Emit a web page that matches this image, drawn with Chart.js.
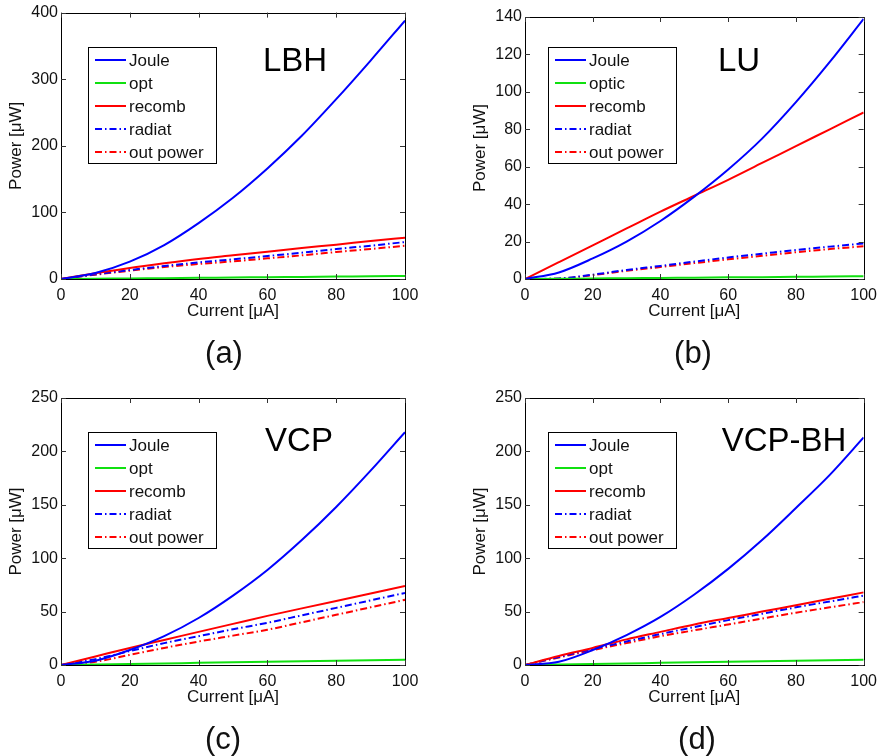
<!DOCTYPE html>
<html>
<head>
<meta charset="utf-8">
<script src="https://cdn.jsdelivr.net/npm/chart.js@4.4.1/dist/chart.umd.min.js"></script>
<style>
body { margin: 0; background: #fff; width: 884px; height: 756px; position: relative; overflow: hidden; font-family: "Liberation Sans", Arial, sans-serif; }
.panel { position: absolute; width: 442px; height: 378px; }
.cap { position: absolute; font-size: 31px; line-height: 34px; color: #111; transform: translateX(-50%); }
</style>
</head>
<body>
<div class="panel" style="left:0;top:0"><canvas id="cA" width="442" height="378"></canvas></div>
<div class="panel" style="left:442px;top:0"><canvas id="cB" width="442" height="378"></canvas></div>
<div class="panel" style="left:0;top:378px"><canvas id="cC" width="442" height="378"></canvas></div>
<div class="panel" style="left:442px;top:378px"><canvas id="cD" width="442" height="378"></canvas></div>
<div class="cap" style="left:224px;top:336px">(a)</div>
<div class="cap" style="left:693px;top:336px">(b)</div>
<div class="cap" style="left:223px;top:722px">(c)</div>
<div class="cap" style="left:697px;top:722px">(d)</div>
<script>
// Current [µA]
const current = [0, 10, 20, 30, 40, 50, 60, 70, 80, 90, 100];

// (a) LBH
const lbhJoule  = [0, 9, 26, 51, 84, 122, 166, 215, 270, 328, 388];
const lbhOpt    = [0, 0.4, 0.9, 1.3, 1.8, 2.2, 2.7, 3.1, 3.6, 4.0, 4.5];
const lbhRecomb = [0, 8.5, 16.5, 23.5, 30, 35.5, 41, 46.5, 51.5, 57, 62];
const lbhRadiat = [0, 7, 13.5, 19.5, 25, 29.5, 34.5, 39.5, 45, 50, 55.5];
const lbhOut    = [0, 6.5, 12.5, 18, 22.5, 26.5, 31, 35.5, 40.5, 45, 50];

// (b) LU
const luJoule  = [0, 3.5, 11, 20, 31, 44, 58.5, 75, 94.5, 116, 139];
const luOptic  = [0, 0.1, 0.3, 0.4, 0.6, 0.7, 0.9, 1.0, 1.2, 1.3, 1.5];
const luRecomb = [0, 9, 18, 27, 36, 44.5, 53, 62, 71, 80, 89];
const luRadiat = [0, 0.3, 2.3, 4.8, 7, 9.3, 11.5, 13.5, 15.5, 17.3, 19];
const luOut    = [0, 0.2, 2.1, 4.4, 6.4, 8.5, 10.5, 12.4, 14.3, 16, 17.5];

// (c) VCP
const vcpJoule  = [0, 4, 14, 27, 44, 65, 89, 117, 148, 182, 218];
const vcpOpt    = [0, 0.5, 1, 1.5, 2, 2.5, 3, 3.5, 4, 4.5, 5];
const vcpRecomb = [0, 8, 16, 23.5, 31, 38.5, 46, 53, 60, 67, 74];
const vcpRadiat = [0, 5.5, 13, 20.5, 27, 33.5, 39.5, 46.5, 53.5, 60.5, 67.5];
const vcpOut    = [0, 3, 9.5, 16, 22, 27.5, 33, 40, 47, 54, 61];

// (d) VCP-BH
const bhJoule  = [0, 3, 14, 28, 45, 66, 90, 117, 147, 178, 213];
const bhOpt    = [0, 0.5, 1, 1.5, 2, 2.5, 3, 3.5, 4, 4.5, 5];
const bhRecomb = [0, 8.5, 16, 24, 31, 38, 44, 50, 56, 62, 68];
const bhRadiat = [0, 7.5, 15, 22, 29, 35.5, 42, 48, 54, 59.5, 65];
const bhOut    = [0, 7, 14, 20.5, 27, 32.5, 38, 43.5, 49, 54, 59];

const FONT = '"Liberation Sans", Arial, sans-serif';
const BLUE = '#0000ff', GREEN = '#10e010', RED = '#ff0000';
const DASHDOT = [7, 3, 1.5, 3];

function pts(ys) {
    return current.map((x, i) => ({ x: x, y: ys[i] }));
}

function serie(label, ys, color, dash) {
    return {
        label: label,
        data: pts(ys),
        borderColor: color,
        backgroundColor: color,
        borderWidth: 2,
        borderDash: dash || [],
        pointRadius: 0,
        tension: 0.4,
        cubicInterpolationMode: 'monotone',
        fill: false
    };
}

// caja estilo matlab: marco, ticks hacia dentro, leyenda y titulo
const matlabBox = {
    id: 'matlabBox',
    afterDatasetsDraw(chart, args, opts) {
        const { ctx, chartArea: a, scales: { x, y } } = chart;
        ctx.save();
        ctx.strokeStyle = '#000';
        ctx.lineWidth = 1;
        ctx.setLineDash([]);
        ctx.strokeRect(Math.round(a.left) + 0.5, Math.round(a.top) + 0.5, Math.round(a.width), Math.round(a.height));
        const tl = 5;
        ctx.strokeStyle = '#333';
        ctx.beginPath();
        x.ticks.forEach(t => {
            const px = Math.round(x.getPixelForValue(t.value)) + 0.5;
            ctx.moveTo(px, a.bottom); ctx.lineTo(px, a.bottom - tl);
            ctx.moveTo(px, a.top); ctx.lineTo(px, a.top + tl);
        });
        y.ticks.forEach(t => {
            const py = Math.round(y.getPixelForValue(t.value)) + 0.5;
            ctx.moveTo(a.left, py); ctx.lineTo(a.left + tl, py);
            ctx.moveTo(a.right, py); ctx.lineTo(a.right - tl, py);
        });
        ctx.stroke();

        // leyenda
        const lx = opts.legendX, ly = opts.legendY, lw = 128, lh = 116;
        ctx.fillStyle = '#fff';
        ctx.fillRect(lx, ly, lw, lh);
        ctx.strokeStyle = '#000';
        ctx.strokeRect(lx + 0.5, ly + 0.5, lw, lh);
        ctx.font = '17px ' + FONT;
        ctx.textBaseline = 'middle';
        chart.data.datasets.forEach((ds, i) => {
            const ry = ly + 13 + i * 23;
            ctx.strokeStyle = ds.borderColor;
            ctx.lineWidth = 2;
            ctx.setLineDash(ds.borderDash);
            ctx.beginPath();
            ctx.moveTo(lx + 7, ry); ctx.lineTo(lx + 38, ry);
            ctx.stroke();
            ctx.setLineDash([]);
            ctx.fillStyle = '#111';
            ctx.fillText(ds.label, lx + 41, ry + 1);
        });

        // titulo del panel
        ctx.font = '33px ' + FONT;
        ctx.textAlign = 'center';
        ctx.textBaseline = 'alphabetic';
        ctx.fillStyle = '#000';
        ctx.fillText(opts.title, opts.titleX, opts.titleY);
        ctx.restore();
    }
};

function crearPanel(id, cfg) {
    const ctx = document.getElementById(id).getContext('2d');
    return new Chart(ctx, {
        type: 'line',
        data: {
            datasets: [
                serie('Joule', cfg.joule, BLUE),
                serie(cfg.optLabel, cfg.opt, GREEN),
                serie('recomb', cfg.recomb, RED),
                serie('radiat', cfg.radiat, BLUE, DASHDOT),
                serie('out power', cfg.out, RED, DASHDOT)
            ]
        },
        options: {
            responsive: false,
            animation: false,
            layout: { padding: { left: cfg.padLeft, right: cfg.padRight, top: cfg.padTop, bottom: cfg.padBottom } },
            plugins: {
                legend: { display: false },
                tooltip: { enabled: false },
                matlabBox: { legendX: cfg.legendX, legendY: cfg.legendY, title: cfg.title, titleX: cfg.titleX, titleY: cfg.titleY }
            },
            scales: {
                x: {
                    type: 'linear',
                    min: 0, max: 100,
                    grid: { display: false, drawTicks: false },
                    border: { display: false },
                    ticks: { stepSize: 20, color: '#111', font: { size: 16, family: FONT }, padding: 7, maxRotation: 0 },
                    title: { display: true, text: 'Current [μA]', color: '#111', font: { size: 17, family: FONT }, padding: { top: 0, bottom: 0 } },
                    afterFit(scale) { scale.height = 43; }
                },
                y: {
                    min: 0, max: cfg.yMax,
                    grid: { display: false, drawTicks: false },
                    border: { display: false },
                    ticks: { stepSize: cfg.yStep, color: '#111', font: { size: 16, family: FONT }, padding: 3 },
                    title: { display: true, text: 'Power [μW]', color: '#111', font: { size: 17, family: FONT }, padding: { top: 6, bottom: 0 } },
                    afterFit(scale) { scale.width = 61; }
                }
            }
        },
        plugins: [matlabBox]
    });
}

crearPanel('cA', {
    joule: lbhJoule, opt: lbhOpt, optLabel: 'opt', recomb: lbhRecomb, radiat: lbhRadiat, out: lbhOut,
    yMax: 400, yStep: 100, padLeft: 0, padRight: 37, padTop: 12, padBottom: 56,
    legendX: 88, legendY: 47, title: 'LBH', titleX: 295, titleY: 71
});
crearPanel('cB', {
    joule: luJoule, opt: luOptic, optLabel: 'optic', recomb: luRecomb, radiat: luRadiat, out: luOut,
    yMax: 140, yStep: 20, padLeft: 22, padRight: 15, padTop: 17, padBottom: 56,
    legendX: 106, legendY: 47, title: 'LU', titleX: 297, titleY: 71
});
crearPanel('cC', {
    joule: vcpJoule, opt: vcpOpt, optLabel: 'opt', recomb: vcpRecomb, radiat: vcpRadiat, out: vcpOut,
    yMax: 250, yStep: 50, padLeft: 0, padRight: 37, padTop: 20, padBottom: 48,
    legendX: 88, legendY: 54, title: 'VCP', titleX: 299, titleY: 73
});
crearPanel('cD', {
    joule: bhJoule, opt: bhOpt, optLabel: 'opt', recomb: bhRecomb, radiat: bhRadiat, out: bhOut,
    yMax: 250, yStep: 50, padLeft: 22, padRight: 15, padTop: 20, padBottom: 48,
    legendX: 106, legendY: 54, title: 'VCP-BH', titleX: 342, titleY: 73
});
</script>
</body>
</html>
